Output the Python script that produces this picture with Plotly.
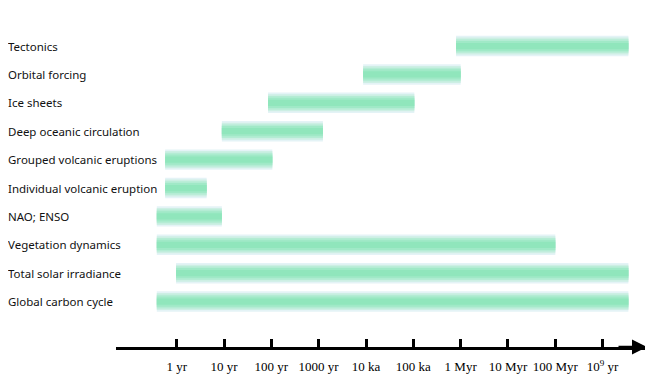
import plotly.graph_objects as go

processes = ["Tectonics", "Orbital forcing", "Ice sheets", "Deep oceanic circulation",
             "Grouped volcanic eruptions", "Individual volcanic eruption", "NAO; ENSO",
             "Vegetation dynamics", "Total solar irradiance", "Global carbon cycle"]
start_yr = [8e5, 8.7e3, 85, 9, 0.57, 0.57, 0.38, 0.38, 0.97, 0.38]
end_yr = [3.5e9, 1.0e6, 1.05e5, 1230, 105, 4.3, 9, 1.0e8, 3.5e9, 3.5e9]

tick_vals = [1, 10, 100, 1000, 1e4, 1e5, 1e6, 1e7, 1e8, 1e9]
tick_text = ["1 yr", "10 yr", "100 yr", "1000 yr", "10 ka", "100 ka", "1 Myr",
             "10 Myr", "100 Myr", "10<sup>9</sup> yr"]

lengths = [e - s for s, e in zip(start_yr, end_yr)]

layers = [(0.72, "#e4f3f6"), (0.60, "#cdefe4"), (0.48, "#b4ecd4"),
          (0.36, "#a0e9c7"), (0.22, "#90e6bc")]

W, H = 645, 377
L, R, T, B = 108, 6, 2, 38
PW = W - L - R

fig = go.Figure()
for w, c in layers:
    fig.add_trace(go.Bar(
        y=processes, x=lengths, base=start_yr, orientation="h",
        width=w, marker=dict(color=c, line=dict(width=0)),
        hoverinfo="skip", showlegend=False))

for p in processes:
    fig.add_annotation(x=-(L + 1) / PW, xref="paper", y=p, yref="y", text=p,
                       showarrow=False, xanchor="left", yanchor="middle", borderpad=0,
                       font=dict(family="Noto Sans", size=11.5, color="#111"))

# arrow head at the end of the axis
fig.add_annotation(x=1, xref="paper", y=0, yref="paper", ax=-30, ay=0,
                   axref="pixel", ayref="pixel", text="", showarrow=True,
                   arrowhead=2, arrowsize=1.2, arrowwidth=2.5, arrowcolor="black")

fig.update_layout(
    width=W, height=H, barmode="overlay",
    margin=dict(l=L, r=R, t=T, b=B),
    plot_bgcolor="white", paper_bgcolor="white",
    xaxis=dict(type="log", range=[-1.282, 9.937], tickvals=tick_vals, ticktext=tick_text,
               ticks="inside", ticklen=8, tickwidth=2.5, tickcolor="black",
               showline=True, linewidth=2.5, linecolor="black", showgrid=False,
               zeroline=False, ticklabelstandoff=6,
               tickfont=dict(family="Liberation Serif", size=13, color="black")),
    yaxis=dict(type="category", categoryorder="array", categoryarray=processes,
               range=[10.6, -1.27], showticklabels=False, showgrid=False,
               zeroline=False, showline=False, ticks=""),
)

fig.write_html("out.html")
